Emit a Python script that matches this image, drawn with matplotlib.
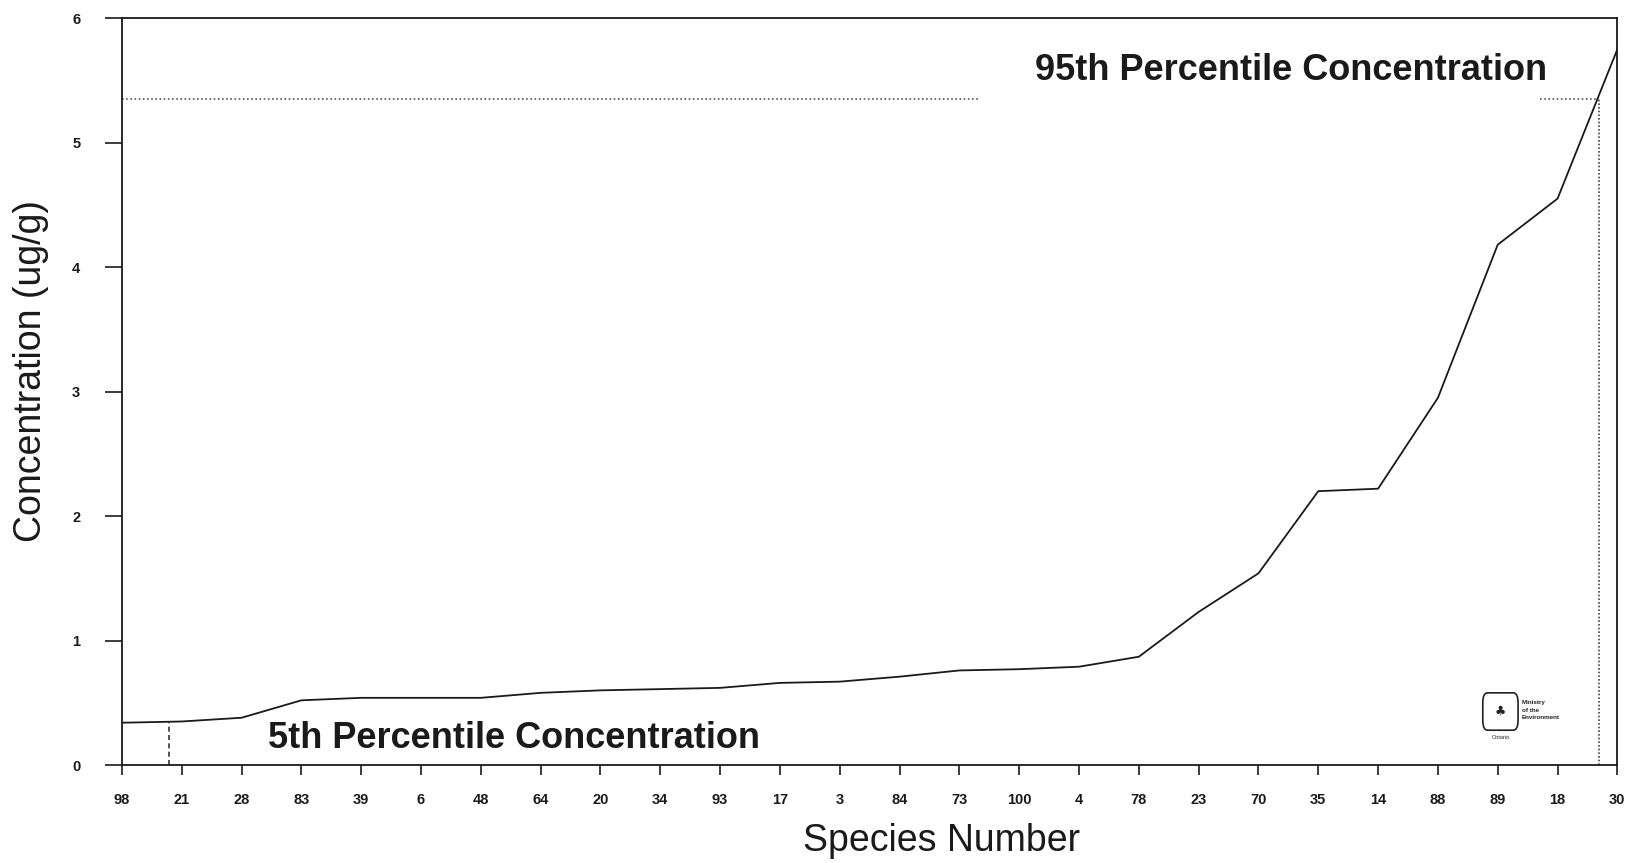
import matplotlib
matplotlib.use("Agg")
import matplotlib.pyplot as plt
from matplotlib.patches import FancyBboxPatch

species = ["98", "21", "28", "83", "39", "6", "48", "64", "20", "34", "93", "17", "3",
           "84", "73", "100", "4", "78", "23", "70", "35", "14", "88", "89", "18", "30"]
concentration = [0.34, 0.35, 0.38, 0.52, 0.54, 0.54, 0.54, 0.58, 0.60, 0.61, 0.62, 0.66, 0.67,
                 0.71, 0.76, 0.77, 0.79, 0.87, 1.23, 1.54, 2.20, 2.22, 2.95, 4.18, 4.55, 5.75]
yticks = [0, 1, 2, 3, 4, 5, 6]
p95_value = 5.35
p95_position = 24.7
p5_value = 0.35
p5_position = 0.79

plt.rcParams['font.family'] = ['Liberation Sans', 'DejaVu Sans']

fig = plt.figure(figsize=(16.37, 8.63), dpi=100)
ax = fig.add_axes([0.0745, 0.1135, 0.9135, 0.8655])

x = list(range(len(species)))
ax.plot(x, concentration, color='#1a1a1a', lw=1.3)

# 95th percentile dotted guide lines
ax.plot([0, 14.35], [p95_value, p95_value], color='#555555', lw=1.2, ls=(0, (1, 1.5)))
ax.plot([23.7, p95_position], [p95_value, p95_value], color='#555555', lw=1.2, ls=(0, (1, 1.5)))
ax.plot([p95_position, p95_position], [0, p95_value], color='#444444', lw=1.2, ls=(0, (1, 1.2)))
# 5th percentile dashed guide
ax.plot([p5_position, p5_position], [0, p5_value], color='#333333', lw=1.2, ls=(0, (3, 2)))

ax.text(15.27, 5.58, "95th Percentile Concentration", fontsize=26, fontweight='bold',
        color='#1a1a1a', ha='left', va='center')
ax.text(2.44, 0.21, "5th Percentile Concentration", fontsize=26, fontweight='bold',
        color='#1a1a1a', ha='left', va='center')

# small ministry logo
logo = FancyBboxPatch((22.77, 0.3), 0.55, 0.26, boxstyle="round,pad=0.02,rounding_size=0.08",
                      fill=False, ec='#222222', lw=1.2)
ax.add_patch(logo)
ax.text(23.05, 0.43, "\u2663", fontsize=9, ha='center', va='center', color='#222222',
        family='DejaVu Sans')
ax.text(23.05, 0.22, "Ontario", fontsize=4, ha='center', va='center', color='#222222')
ax.text(23.4, 0.44, "Ministry\nof the\nEnvironment", fontsize=4.5, fontweight='bold',
        ha='left', va='center', color='#222222', linespacing=1.6)

ax.set_xlim(0, 25)
ax.set_ylim(0, 6)
ax.set_xticks(x)
ax.set_xticklabels(species, fontsize=10.5, fontweight='bold')
ax.set_yticks(yticks)
ax.set_yticklabels([str(v) for v in yticks], fontsize=10.5, fontweight='bold')
ax.tick_params(axis='x', direction='out', length=7, width=1.2, pad=13, colors='#1a1a1a')
ax.tick_params(axis='y', direction='out', length=12, width=1.2, pad=18, colors='#1a1a1a')
for s in ax.spines.values():
    s.set_linewidth(1.3)
    s.set_color('#1a1a1a')

ax.set_xlabel("Species Number", fontsize=27, color='#1a1a1a', labelpad=14)
ax.set_ylabel("Concentration (ug/g)", fontsize=27, color='#1a1a1a', labelpad=14)
ax.xaxis.set_label_coords(0.548, -0.078)
ax.yaxis.set_label_coords(-0.049, 0.527)

fig.savefig("out.png", dpi=100)
